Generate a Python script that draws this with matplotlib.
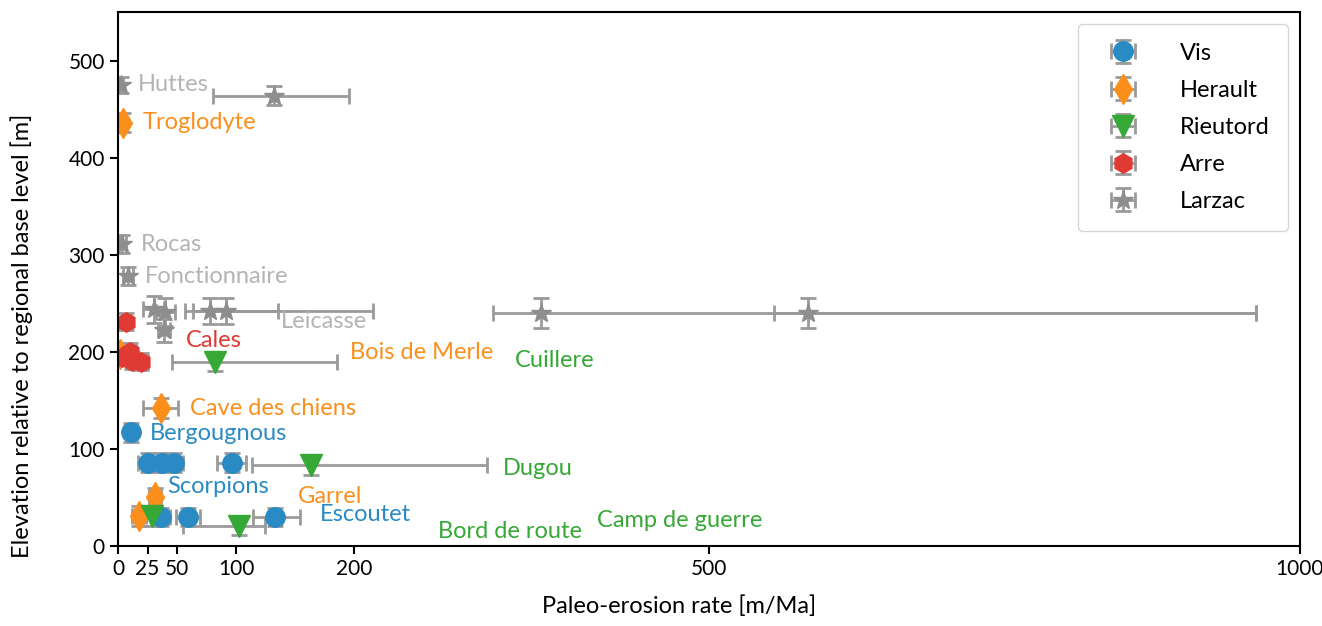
import matplotlib
matplotlib.use("Agg")
import matplotlib.pyplot as plt

plt.rcParams['font.family'] = ['Lato', 'DejaVu Sans']

# site values: x = erosion rate [m/Ma], y = elevation [m]
vis_x = [11, 25, 37, 47, 96, 36, 59, 133]
vis_y = [117, 86, 86, 86, 86, 30, 30, 30]
vis_xlo = [5, 8, 8, 8, 12, 8, 10, 19]
vis_xhi = [5, 8, 8, 8, 12, 8, 10, 21]
vis_yerr = [10, 10, 10, 10, 10, 9, 9, 9]

her_x = [4, 36, 31, 18, 2]
her_y = [436, 142, 50, 31, 198]
her_xerr = [3, 15, 5, 6, 2]
her_yerr = [10, 10, 10, 10, 8]

rie_x = [82, 163, 102, 29]
rie_y = [190, 83, 21, 31]
rie_xlo = [36, 50, 47, 8]
rie_xhi = [103, 149, 22, 8]
rie_yerr = [10, 10, 10, 10]

arr_x = [7, 3, 10, 12, 19]
arr_y = [231, 195, 200, 191, 190]
arr_xerr = [4, 3, 5, 5, 6]
arr_yerr = [9, 9, 9, 9, 9]

lar_x = [2.5, 132, 3.5, 8.5, 30, 40, 78, 91, 358, 584, 39]
lar_y = [475, 464, 311, 278, 244, 241, 242, 242, 240, 240, 222]
lar_xlo = [2, 52, 3, 4, 9, 8, 21, 28, 41, 29, 5]
lar_xhi = [2, 63, 3, 4, 9, 8, 57, 125, 605, 379, 5]
lar_yerr = [8, 10, 9, 9, 14, 14, 13, 13, 15, 15, 12]

# site labels (name, x, y, colour key)
labels = [
    ("Huttes", 17, 475, "lar"), ("Troglodyte", 21, 436, "her"),
    ("Rocas", 19.5, 311, "lar"), ("Fonctionnaire", 23, 278, "lar"),
    ("Leicasse", 138, 231, "lar"), ("Cales", 57.5, 212, "arr"),
    ("Bois de Merle", 196, 199, "her"), ("Cuillere", 336, 191, "rie"),
    ("Cave des chiens", 61, 142, "her"), ("Bergougnous", 27, 116, "vis"),
    ("Dugou", 326, 80, "rie"), ("Scorpions", 41.5, 61, "vis"),
    ("Garrel", 152, 51, "her"), ("Escoutet", 171, 32, "vis"),
    ("Camp de guerre", 405, 26, "rie"), ("Bord de route", 271, 15, "rie"),
]

colors = {"vis": "#2a8bc4", "her": "#fb8f1c", "rie": "#36a835",
          "arr": "#df3b33", "lar": "#8e8e8e"}
text_colors = dict(colors)
text_colors["lar"] = "#b4b4b4"

fig = plt.figure(figsize=(13.22, 6.26), dpi=100)
ax = fig.add_axes([0.0893, 0.1278, 0.894, 0.853])

eb = dict(ecolor="#9a9a9a", elinewidth=2, capsize=6, capthick=2, linestyle="none")

ax.errorbar(vis_x, vis_y, xerr=[vis_xlo, vis_xhi], yerr=vis_yerr, fmt="o",
            color=colors["vis"], markersize=14, label="Vis", **eb)
ax.errorbar(her_x, her_y, xerr=her_xerr, yerr=her_yerr, fmt="d",
            color=colors["her"], markersize=15, label="Herault", **eb)
ax.errorbar(rie_x, rie_y, xerr=[rie_xlo, rie_xhi], yerr=rie_yerr, fmt="v",
            color=colors["rie"], markersize=16, label="Rieutord", **eb)
ax.errorbar(arr_x, arr_y, xerr=arr_xerr, yerr=arr_yerr, fmt="h",
            color=colors["arr"], markersize=14, label="Arre", **eb)
ax.errorbar(lar_x, lar_y, xerr=[lar_xlo, lar_xhi], yerr=lar_yerr, fmt="*",
            color=colors["lar"], markersize=15, label="Larzac", **eb)

for name, lx, ly, key in labels:
    ax.text(lx, ly, name, color=text_colors[key], fontsize=17,
            ha="left", va="center")

ax.set_xlim(0, 1000)
ax.set_ylim(0, 550)
ax.set_xticks([0, 25, 50, 100, 200, 500, 1000])
ax.set_yticks([0, 100, 200, 300, 400, 500])
ax.tick_params(labelsize=15, width=1.5, length=6)
for s in ax.spines.values():
    s.set_linewidth(1.5)

ax.set_xlabel("Paleo-erosion rate [m/Ma]", fontsize=17)
ax.set_ylabel("Elevation relative to regional base level [m]", fontsize=17)
ax.xaxis.set_label_coords(0.475, -0.093)
ax.yaxis.set_label_coords(-0.072, 0.393)

leg = ax.legend(loc="upper right", fontsize=17, borderpad=0.8,
                labelspacing=0.68, handlelength=2.2, handletextpad=1.3,
                borderaxespad=0.5)

fig.savefig("out.png", dpi=100)
